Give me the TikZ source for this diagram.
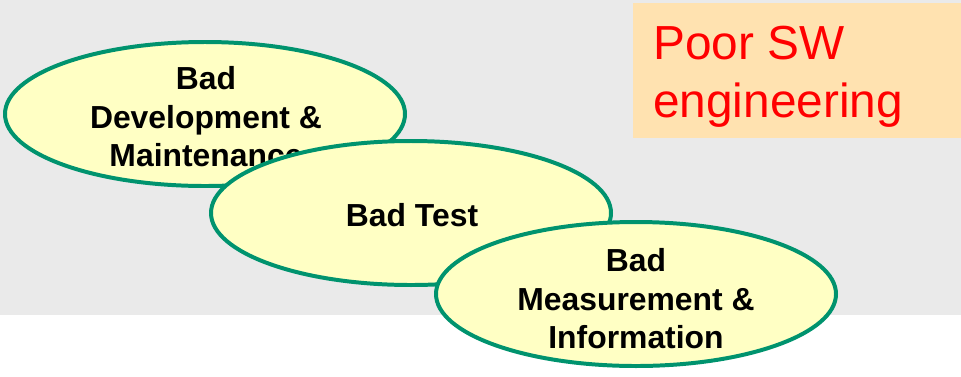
\documentclass[tikz,border=0pt]{standalone}
\usepackage{fontspec}
\setmainfont{Liberation Sans}
\usetikzlibrary{shapes.geometric}

\definecolor{bggray}{HTML}{EAEAEA}
\definecolor{blobfill}{HTML}{FFFFC4}
\definecolor{blobline}{HTML}{00936E}
\definecolor{notefill}{HTML}{FFE2B0}
\definecolor{notered}{HTML}{FF0000}

\tikzset{
  blob/.style={ellipse, draw=blobline, fill=blobfill, line width=3.4pt,
    minimum width=120mm, minimum height=43.2mm, inner sep=0pt},
  blobtext/.style={align=center, inner sep=0pt,
    font=\fontsize{27.2}{32.9}\selectfont\bfseries},
}

\begin{document}
\begin{tikzpicture}[x=0.3mm, y=-0.3mm]
  \useasboundingbox (0,0) rectangle (961,376);
  \fill[bggray] (0,0) rectangle (961,315);

  % note in the corner
  \node[fill=notefill, minimum width=98.4mm, minimum height=40.5mm, anchor=north west, inner sep=0pt] (note) at (633,3) {};
  \node[anchor=base west, align=left, inner sep=0pt, text=notered,
        font=\fontsize{40.8}{48.7}\selectfont] (poor) at (653,117) {Poor SW\\engineering};

  % the three ellipses, drawn back to front
  \node[blob] (dev) at (205,114) {};
  \node[blobtext] (dev-text) at (206,117) {Bad\\Development \&\\Maintenance};

  \node[blob] (test) at (411,213) {};
  \node[blobtext] (test-text) at (412,215) {Bad Test};

  \node[blob] (meas) at (636,294) {};
  \node[blobtext] (meas-text) at (636,299) {Bad\\Measurement \&\\Information};
\end{tikzpicture}
\end{document}
